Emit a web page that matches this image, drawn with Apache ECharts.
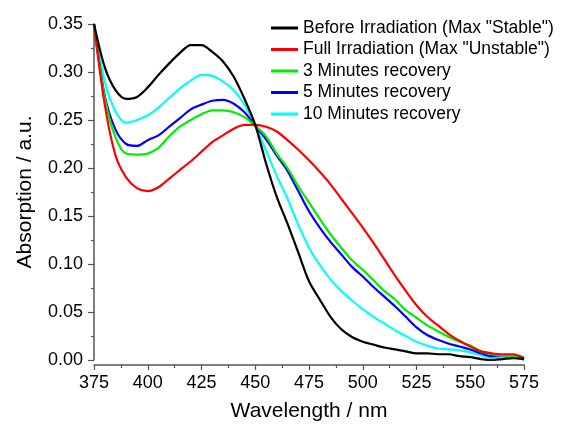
<!DOCTYPE html>
<html>
<head>
<meta charset="utf-8">
<script src="https://cdn.jsdelivr.net/npm/echarts@6/dist/echarts.min.js"></script>
<style>
html,body{margin:0;padding:0;background:#fff;}
#c{width:562px;height:427px;}
</style>
</head>
<body>
<div id="c"></div>
<script>
var wavelengths = [375,380,385,390,395,400,405,410,415,420,425,430,435,440,445,450,455,460,465,470,475,480,485,490,495,500,505,510,515,520,525,530,535,540,545,550,555,560,565,570,575];
var seriesNames = ['Before Irradiation (Max "Stable")','Full Irradiation (Max "Unstable")','3 Minutes recovery','5 Minutes recovery','10 Minutes recovery'];
var before = [0.350,0.305,0.281,0.272,0.274,0.284,0.297,0.309,0.320,0.328,0.328,0.321,0.311,0.295,0.272,0.245,0.205,0.170,0.142,0.112,0.082,0.063,0.045,0.032,0.024,0.019,0.016,0.013,0.011,0.009,0.007,0.007,0.006,0.006,0.004,0.003,0.001,0.000,0.001,0.002,0.001];
var full = [0.350,0.266,0.213,0.190,0.179,0.176,0.180,0.189,0.198,0.207,0.217,0.227,0.234,0.241,0.245,0.245,0.243,0.238,0.229,0.219,0.208,0.196,0.183,0.168,0.153,0.138,0.122,0.105,0.088,0.072,0.057,0.045,0.036,0.027,0.020,0.014,0.009,0.007,0.006,0.006,0.002];
var min3 = [0.350,0.273,0.232,0.215,0.214,0.215,0.221,0.233,0.243,0.250,0.256,0.260,0.260,0.258,0.253,0.244,0.233,0.215,0.200,0.181,0.164,0.147,0.131,0.117,0.104,0.094,0.083,0.072,0.063,0.052,0.044,0.036,0.030,0.024,0.019,0.015,0.009,0.006,0.005,0.004,0.001];
var min5 = [0.350,0.275,0.240,0.225,0.223,0.229,0.234,0.243,0.252,0.261,0.266,0.270,0.271,0.267,0.258,0.244,0.230,0.213,0.197,0.176,0.155,0.138,0.123,0.110,0.097,0.087,0.076,0.066,0.056,0.045,0.034,0.026,0.021,0.017,0.014,0.011,0.007,0.004,0.005,0.005,0.002];
var min10 = [0.350,0.290,0.259,0.247,0.250,0.255,0.263,0.273,0.283,0.291,0.297,0.296,0.290,0.281,0.266,0.244,0.218,0.192,0.168,0.141,0.117,0.099,0.084,0.072,0.062,0.053,0.045,0.038,0.031,0.025,0.019,0.015,0.012,0.011,0.010,0.008,0.005,0.002,0.003,0.003,0.000];
var colors = ['#000000','#ff0000','#00ee00','#0000ff','#00ffff'];
var allValues = [before, full, min3, min5, min10];

function pairs(vals){ return wavelengths.map(function(w,i){ return [w, vals[i]]; }); }

var chart = echarts.init(document.getElementById('c'), null, {renderer:'canvas'});
var FONT = 'Liberation Sans, Arial, sans-serif';
var axisCol = '#555555';
chart.setOption({
  backgroundColor:'#ffffff',
  animation:false,
  color: colors,
  grid:{left:94,right:38,top:24,bottom:63},
  legend:{
    orient:'vertical', left:271, top:19, itemGap:3.5, padding:0,
    itemWidth:27, itemHeight:3, icon:'rect',
    textStyle:{fontFamily:FONT,fontSize:17.5,color:'#000',lineHeight:18},
    data: seriesNames
  },
  xAxis:{
    type:'value', min:375, max:575, interval:25, offset:5,
    name:'Wavelength / nm', nameLocation:'middle', nameGap:36,
    nameTextStyle:{fontFamily:FONT,fontSize:21,color:'#000'},
    axisLine:{show:true,onZero:false,lineStyle:{color:axisCol,width:1.5}},
    axisTick:{show:true,inside:false,length:5,lineStyle:{color:axisCol,width:1.2}},
    minorTick:{show:true,splitNumber:2,length:3,lineStyle:{color:axisCol,width:1.2}},
    axisLabel:{fontFamily:FONT,fontSize:18,color:'#000',margin:9},
    splitLine:{show:false}
  },
  yAxis:{
    type:'value', min:0, max:0.35, interval:0.05,
    name:'Absorption / a.u.', nameLocation:'middle', nameGap:58,
    nameTextStyle:{fontFamily:FONT,fontSize:21,color:'#000'},
    axisLine:{show:true,lineStyle:{color:axisCol,width:1.5}},
    axisTick:{show:true,inside:false,length:6,lineStyle:{color:axisCol,width:1.2}},
    minorTick:{show:true,splitNumber:2,length:3,lineStyle:{color:axisCol,width:1.2}},
    axisLabel:{fontFamily:FONT,fontSize:18,color:'#000',margin:11,formatter:function(v){return v.toFixed(2);}},
    splitLine:{show:false}
  },
  series: seriesNames.map(function(n,i){
    return {name:n,type:'line',data:pairs(allValues[i]),showSymbol:false,smooth:0.3,
      lineStyle:{width:2.2,color:colors[i]},itemStyle:{color:colors[i]},z:10-i};
  })
});
</script>
</body>
</html>
